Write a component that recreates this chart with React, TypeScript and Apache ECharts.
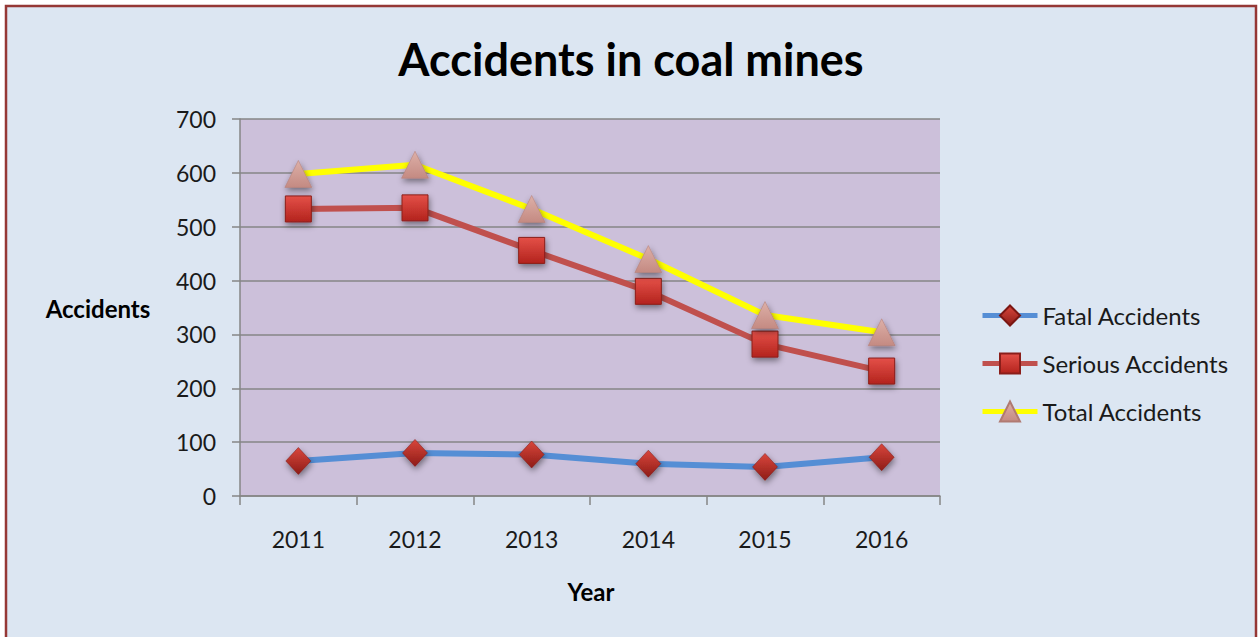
import React, { useEffect, useRef } from "react";
import * as echarts from "echarts";

const years = ["2011", "2012", "2013", "2014", "2015", "2016"];
const fatalAccidents = [65, 80, 77, 60, 54, 72];
const seriousAccidents = [533, 535, 456, 380, 282, 232];
const totalAccidents = [598, 615, 533, 440, 336, 304];
const seriesNames = ["Fatal Accidents", "Serious Accidents", "Total Accidents"];
const titleText = "Accidents in coal mines";
const yAxisTitle = "Accidents";
const xAxisTitle = "Year";

const FONT = "Lato, 'Open Sans', sans-serif";

export default function App() {
  const ref = useRef<HTMLDivElement>(null);
  useEffect(() => {
    if (!ref.current) return;
    const chart = echarts.init(ref.current, null, { renderer: "svg" });
    const shadow = {
      shadowBlur: 6,
      shadowColor: "rgba(0,0,0,0.45)",
      shadowOffsetY: 3,
      shadowOffsetX: 1,
    };
    const grad = (c1: string, c2: string) =>
      new echarts.graphic.LinearGradient(0, 0, 0, 1, [
        { offset: 0, color: c1 },
        { offset: 1, color: c2 },
      ]);
    chart.setOption({
      animation: false,
      backgroundColor: "#ffffff",
      textStyle: { fontFamily: FONT },
      graphic: [
        {
          type: "rect",
          z: -10,
          silent: true,
          shape: { x: 6, y: 6, width: 1250, height: 640 },
          style: { fill: "#DCE6F2", stroke: "#953735", lineWidth: 2.5 },
        },
        {
          type: "text",
          x: 631,
          y: 59,
          style: {
            text: titleText,
            font: `bold 45px ${FONT}`,
            fill: "#000000",
            align: "center",
            verticalAlign: "middle",
          },
        },
        {
          type: "text",
          x: 98,
          y: 308,
          style: {
            text: yAxisTitle,
            font: `bold 24px ${FONT}`,
            fill: "#000000",
            align: "center",
            verticalAlign: "middle",
          },
        },
        {
          type: "text",
          x: 591,
          y: 591,
          style: {
            text: xAxisTitle,
            font: `bold 24px ${FONT}`,
            fill: "#000000",
            align: "center",
            verticalAlign: "middle",
          },
        },
      ],
      grid: {
        left: 240,
        right: 319,
        top: 119,
        bottom: 141,
        show: true,
        backgroundColor: "#CCC0DA",
        borderWidth: 0,
      },
      legend: {
        orient: "vertical",
        left: 975,
        top: 298,
        itemWidth: 55,
        itemHeight: 25,
        itemGap: 23,
        data: seriesNames,
        lineStyle: { width: 5 },
        textStyle: { fontSize: 24, lineHeight: 25, color: "#1a1a1a", fontFamily: FONT },
      },
      xAxis: {
        type: "category",
        data: years,
        boundaryGap: true,
        axisLine: { show: true, lineStyle: { color: "#868686", width: 1.5 } },
        axisTick: { show: true, length: 9, lineStyle: { color: "#868686", width: 1.5 } },
        axisLabel: { fontSize: 23, color: "#1a1a1a", margin: 31, fontFamily: FONT },
        splitLine: { show: false },
      },
      yAxis: {
        type: "value",
        min: 0,
        max: 700,
        interval: 100,
        axisLine: { show: true, lineStyle: { color: "#868686", width: 1.5 } },
        axisTick: { show: true, length: 8, lineStyle: { color: "#868686", width: 1.5 } },
        axisLabel: { fontSize: 23, color: "#1a1a1a", margin: 24, fontFamily: FONT },
        splitLine: { show: true, lineStyle: { color: "#868686", width: 1.5 } },
      },
      series: [
        {
          name: seriesNames[0],
          type: "line",
          data: fatalAccidents,
          symbol: "diamond",
          symbolSize: [25, 27],
          lineStyle: { color: "#558ED5", width: 6 },
          itemStyle: {
            color: grad("#D9463C", "#8E1C17"),
            borderColor: "#7A1612",
            borderWidth: 0.5,
            ...shadow,
          },
          z: 3,
        },
        {
          name: seriesNames[1],
          type: "line",
          data: seriousAccidents,
          symbol: "rect",
          symbolSize: [26, 26],
          lineStyle: { color: "#C0504D", width: 6 },
          itemStyle: {
            color: grad("#E45048", "#B3231D"),
            borderColor: "#8B1E1A",
            borderWidth: 1,
            ...shadow,
          },
          z: 4,
        },
        {
          name: seriesNames[2],
          type: "line",
          data: totalAccidents,
          symbol: "triangle",
          symbolSize: [27, 27],
          lineStyle: { color: "#FFFF00", width: 6 },
          itemStyle: {
            color: grad("#DDB0A8", "#C48A82"),
            borderColor: "#B07A72",
            borderWidth: 0.5,
            ...shadow,
          },
          z: 5,
        },
      ],
    });
    return () => chart.dispose();
  }, []);
  return (
    <div
      ref={ref}
      style={{ position: "fixed", left: 0, top: 0, width: 1259, height: 637 }}
    />
  );
}
